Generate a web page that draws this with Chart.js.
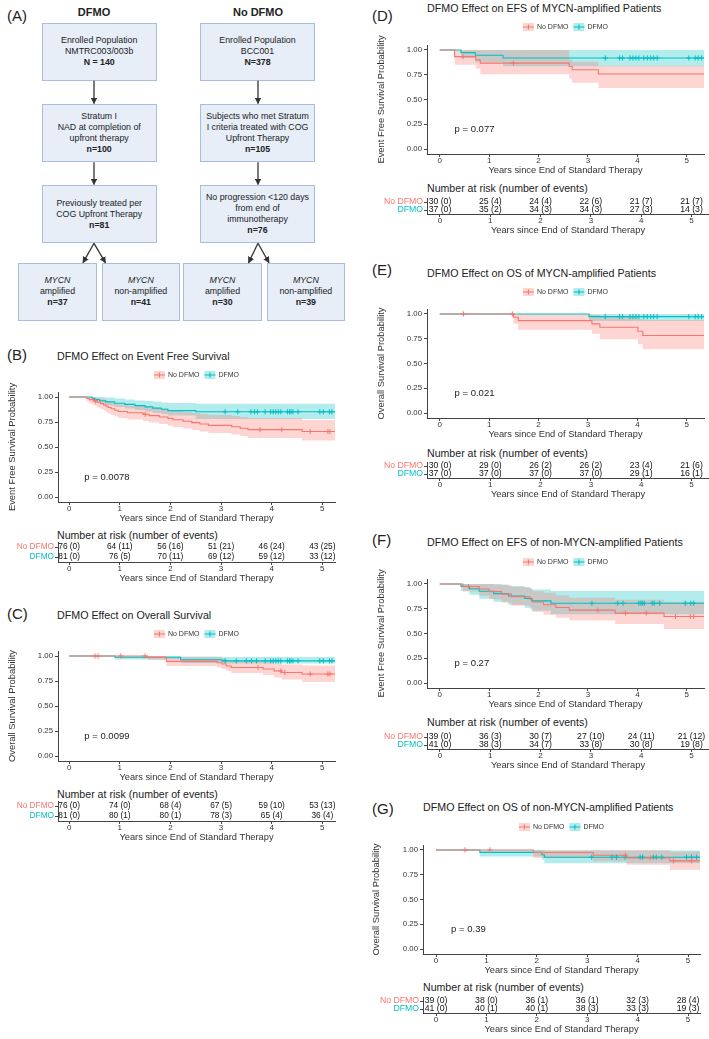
<!DOCTYPE html>
<html>
<head>
<meta charset="utf-8">
<script src="https://cdn.jsdelivr.net/npm/chart.js@4/dist/chart.umd.min.js"></script>
<style>
html, body { margin: 0; padding: 0; background: #fff; overflow: hidden; }
#fig { position: relative; width: 709px; height: 1039px; font-family: "Liberation Sans", Arial, sans-serif; color: #222; }
#fig canvas { position: absolute; }
.t { position: absolute; white-space: nowrap; line-height: 1; transform: translateY(-50%); }
.c { transform: translate(-50%, -50%); }
.lab { font-size: 15px; }
.ttl { font-size: 10.7px; }
.hdr { font-size: 10.6px; }
.box { position: absolute; box-sizing: border-box; background: #e7eef8; border: 1px solid #a9bddf;
       display: flex; flex-direction: column; justify-content: center; align-items: center;
       text-align: center; font-size: 8.8px; line-height: 11px; color: #222; }
</style>
</head>
<body>
<div id="fig">

<!-- (A) flow chart -->
<div class="t lab" style="left:7px;top:15px">(A)</div>
<div class="t c" style="left:94px;top:12px;font-size:11px;font-weight:bold">DFMO</div>
<div class="t c" style="left:258px;top:12px;font-size:11px;font-weight:bold">No DFMO</div>

<div class="box" style="left:41.7px;top:23.3px;width:115px;height:57.4px">Enrolled Population<br>NMTRC003/003b<br><b>N = 140</b></div>
<div class="box" style="left:200px;top:23.3px;width:115px;height:57.4px">Enrolled Population<br>BCC001<br><b>N=378</b></div>
<div class="box" style="left:41.7px;top:104px;width:115px;height:58.3px">Stratum I<br>NAD at completion of<br>upfront therapy<br><b>n=100</b></div>
<div class="box" style="left:200px;top:104px;width:115px;height:58.3px">Subjects who met Stratum<br>I criteria treated with COG<br>Upfront Therapy<br><b>n=105</b></div>
<div class="box" style="left:41.7px;top:185px;width:115px;height:58.3px">Previously treated per<br>COG Upfront Therapy<br><b>n=81</b></div>
<div class="box" style="left:200px;top:185px;width:115px;height:58.3px">No progression &lt;120 days<br>from end of<br>immunotherapy<br><b>n=76</b></div>
<div class="box" style="left:18.3px;top:263.3px;width:78.4px;height:57.4px"><i>MYCN</i>amplified<br><b>n=37</b></div>
<div class="box" style="left:101.7px;top:263.3px;width:78.3px;height:57.4px"><i>MYCN</i>non-amplified<br><b>n=41</b></div>
<div class="box" style="left:183.3px;top:263.3px;width:78.4px;height:57.4px"><i>MYCN</i>amplified<br><b>n=30</b></div>
<div class="box" style="left:266.7px;top:263.3px;width:78.3px;height:57.4px"><i>MYCN</i>non-amplified<br><b>n=39</b></div>

<svg width="709" height="340" style="position:absolute;left:0;top:0">
  <defs>
    <marker id="ah" viewBox="0 0 10 10" refX="9" refY="5" markerWidth="5" markerHeight="5" orient="auto">
      <path d="M0,0 L10,5 L0,10 z" fill="#333"/>
    </marker>
  </defs>
  <g stroke="#333" stroke-width="1.3" marker-end="url(#ah)">
    <line x1="94" y1="80.7" x2="94" y2="103.5"/>
    <line x1="94" y1="162.3" x2="94" y2="184.5"/>
    <line x1="94" y1="243.3" x2="83" y2="262.8"/>
    <line x1="94" y1="243.3" x2="105.5" y2="262.8"/>
    <line x1="258" y1="80.7" x2="258" y2="103.5"/>
    <line x1="258" y1="162.3" x2="258" y2="184.5"/>
    <line x1="258" y1="243.3" x2="248.5" y2="262.8"/>
    <line x1="258" y1="243.3" x2="269" y2="262.8"/>
  </g>
</svg>

<!-- panel labels, titles, risk headers -->
<div class="t lab" style="left:7px;top:354px">(B)</div>
<div class="t ttl" style="left:57px;top:356px">DFMO Effect on Event Free Survival</div>
<div class="t hdr" style="left:57px;top:535px">Number at risk (number of events)</div>

<div class="t lab" style="left:7px;top:613px">(C)</div>
<div class="t ttl" style="left:57px;top:615px">DFMO Effect on Overall Survival</div>
<div class="t hdr" style="left:57px;top:794px">Number at risk (number of events)</div>

<div class="t lab" style="left:372px;top:15px">(D)</div>
<div class="t ttl" style="left:427px;top:7.5px">DFMO Effect on EFS of MYCN-amplified Patients</div>
<div class="t hdr" style="left:427px;top:188px">Number at risk (number of events)</div>

<div class="t lab" style="left:372px;top:269px">(E)</div>
<div class="t ttl" style="left:427px;top:273px">DFMO Effect on OS of MYCN-amplified Patients</div>
<div class="t hdr" style="left:427px;top:453px">Number at risk (number of events)</div>

<div class="t lab" style="left:372px;top:539px">(F)</div>
<div class="t ttl" style="left:427px;top:542px">DFMO Effect on EFS of non-MYCN-amplified Patients</div>
<div class="t hdr" style="left:427px;top:722px">Number at risk (number of events)</div>

<div class="t lab" style="left:372px;top:808px">(G)</div>
<div class="t ttl" style="left:423px;top:807px">DFMO Effect on OS of non-MYCN-amplified Patients</div>
<div class="t hdr" style="left:423px;top:987px">Number at risk (number of events)</div>
</div>

<script>
/* ---- colours / fonts ------------------------------------------ */
const RED = '#F8766D', TEAL = '#00BFC4';
const RED_BAND = 'rgba(248,118,109,0.3)', TEAL_BAND = 'rgba(0,191,196,0.3)';
const AXIS = '#444', INK = '#333';
const FONT = '"Liberation Sans", Arial, sans-serif';

/* ---- shared labels -------------------------------------------- */
const groups    = ['No DFMO', 'DFMO'];
const xTicks    = [0, 1, 2, 3, 4, 5];
const yTicks    = [0, 0.25, 0.5, 0.75, 1];
const riskYears = [0, 1, 2, 3, 4, 5];
const xTitle    = 'Years since End of Standard Therapy';

/* ---- (B) EFS, all patients ------------------------------------ */
const bNoT  = [0, .34, .40, .48, .55, .62, .68, .73, .77, .83, .90, .97, 1.15, 1.46, 1.58, 1.78, 1.95, 2.05, 2.25, 2.42, 2.58, 2.75, 3.21, 3.38, 3.53, 4.6];
const bNoS  = [1, .987, .974, .961, .947, .934, .921, .908, .895, .882, .868, .855, .842, .828, .814, .800, .786, .772, .758, .744, .730, .716, .702, .688, .674, .655];
const bNoLo = [1, .955, .935, .915, .895, .88, .865, .85, .835, .82, .805, .79, .775, .76, .745, .73, .715, .70, .685, .67, .655, .64, .625, .61, .59, .565];
const bNoHi = [1, 1, 1, .995, .99, .985, .975, .965, .955, .945, .935, .925, .915, .905, .895, .885, .87, .86, .85, .84, .83, .82, .81, .80, .79, .77];
const bNoCens = [.52, 1.5, 3.77, 4.2, 4.76, 5.11, 5.15];
const bDfT  = [0, .45, .50, .60, .72, .90, 1.10, 1.30, 1.50, 1.65, 1.82, 1.95, 2.50];
const bDfS  = [1, .988, .975, .963, .951, .938, .926, .914, .901, .889, .877, .864, .852];
const bDfLo = [1, .965, .945, .93, .915, .90, .885, .87, .855, .84, .83, .815, .78];
const bDfHi = [1, 1, 1, 1, .995, .985, .975, .965, .96, .955, .945, .94, .932];
const bDfCens = [3.08, 3.33, 3.59, 3.66, 3.72, 3.87, 3.98, 4.03, 4.08, 4.13, 4.18, 4.31, 4.35, 4.38, 4.42, 4.52, 4.95, 5.02, 5.14, 5.19];
const bRiskNo = [76, 64, 56, 51, 46, 43], bEvNo = [0, 11, 16, 21, 24, 25];
const bRiskDf = [81, 76, 70, 69, 59, 33], bEvDf = [0, 5, 11, 12, 12, 12];

/* ---- (C) OS, all patients ------------------------------------- */
const cNoT  = [0, 1.55, 1.92, 2.92, 3.02, 3.1, 3.2, 3.83, 4.05, 4.2, 4.6];
const cNoS  = [1, .986, .946, .933, .92, .9, .885, .87, .85, .835, .82];
const cNoLo = [1, .96, .9, .885, .87, .85, .83, .81, .785, .765, .74];
const cNoHi = [1, 1, .99, .985, .975, .96, .95, .94, .925, .915, .905];
const cNoCens = [.51, .57, 1.02, 1.5, 3.73, 4.18, 4.26, 4.76, 5.11, 5.15];
const cDfT  = [0, .9, 2.2, 3.02];
const cDfS  = [1, .988, .963, .951];
const cDfLo = [1, .965, .93, .925];
const cDfHi = [1, 1, .995, .99];
const cDfCens = [3.08, 3.3, 3.5, 3.6, 3.7, 3.87, 3.98, 4.03, 4.08, 4.13, 4.18, 4.31, 4.35, 4.38, 4.42, 4.52, 4.95, 5.02, 5.14, 5.19];
const cRiskNo = [76, 74, 68, 67, 59, 53], cEvNo = [0, 0, 4, 5, 10, 13];
const cRiskDf = [81, 80, 80, 78, 65, 36], cEvDf = [0, 1, 1, 3, 4, 4];

/* ---- (D) EFS, MYCN-amplified ---------------------------------- */
const dNoT  = [0, .3, .73, .82, 2.62, 2.68, 3.21];
const dNoS  = [1, .933, .9, .867, .833, .8, .758];
const dNoLo = [1, .85, .81, .755, .71, .67, .615];
const dNoHi = [1, 1, 1, 1, .9, .88, .84];
const dNoCens = [.47, 1.49];
const dDfT  = [0, .43, .72, 1.28];
const dDfS  = [1, .973, .946, .919];
const dDfLo = [1, .92, .875, .835];
const dDfHi = [1, 1, 1, 1];
const dDfCens = [3.35, 3.64, 3.7, 3.85, 3.91, 3.97, 4.03, 4.13, 4.2, 4.27, 4.33, 4.4, 5.04, 5.17, 5.23, 5.3];
const dRiskNo = [30, 25, 24, 22, 21, 21], dEvNo = [0, 4, 4, 6, 7, 7];
const dRiskDf = [37, 35, 34, 34, 27, 14], dEvDf = [0, 2, 3, 3, 3, 3];

/* ---- (E) OS, MYCN-amplified ----------------------------------- */
const eNoT  = [0, 1.49, 1.59, 3.08, 3.24, 4.01, 4.11];
const eNoS  = [1, .967, .933, .9, .866, .826, .782];
const eNoLo = [1, .9, .84, .8, .745, .695, .645];
const eNoHi = [1, 1, 1, .99, .97, .95, .94];
const eNoCens = [.48, 1.47];
const eDfT  = [0, 3.02];
const eDfS  = [1, .973];
const eDfLo = [1, .93];
const eDfHi = [1, 1];
const eDfCens = [3.35, 3.64, 3.7, 3.85, 3.91, 3.97, 4.03, 4.13, 4.2, 4.27, 4.33, 4.4, 5.04, 5.17, 5.23, 5.3];
const eRiskNo = [30, 29, 26, 26, 23, 21], eEvNo = [0, 0, 2, 2, 4, 6];
const eRiskDf = [37, 37, 37, 37, 29, 16], eEvDf = [0, 0, 0, 0, 1, 1];

/* ---- (F) EFS, non-MYCN-amplified ------------------------------ */
const fNoT  = [0, .47, .8, 1.0, 1.25, 1.45, 1.82, 1.88, 2.1, 2.35, 2.62, 3.55, 4.54];
const fNoS  = [1, .974, .949, .923, .897, .871, .845, .818, .79, .763, .736, .706, .672];
const fNoLo = [1, .925, .88, .845, .81, .78, .75, .72, .69, .66, .63, .595, .545];
const fNoHi = [1, 1, 1, 1, .99, .97, .95, .93, .91, .885, .86, .84, .82];
const fNoCens = [.58, 3.2, 3.76, 4.18, 4.77, 5.07, 5.14];
const fDfT  = [0, .43, .6, .8, 1.09, 1.39, 1.72, 1.86, 2.25];
const fDfS  = [1, .976, .951, .927, .902, .878, .854, .829, .805];
const fDfLo = [1, .93, .89, .85, .82, .79, .76, .73, .695];
const fDfHi = [1, 1, 1, 1, .995, .98, .965, .945, .93];
const fDfCens = [3.08, 3.6, 3.71, 4.03, 4.07, 4.1, 4.14, 4.3, 4.34, 4.45, 4.97, 5.08, 5.14];
const fRiskNo = [39, 36, 30, 27, 24, 21], fEvNo = [0, 3, 7, 10, 11, 12];
const fRiskDf = [41, 38, 34, 33, 30, 19], fEvDf = [0, 3, 7, 8, 8, 8];

/* ---- (G) OS, non-MYCN-amplified ------------------------------- */
const gNoT  = [0, 1.93, 3.12, 3.78, 4.64];
const gNoS  = [1, .974, .947, .92, .89];
const gNoLo = [1, .92, .885, .85, .8];
const gNoHi = [1, 1, 1, 1, .985];
const gNoCens = [.575, 1.07, 3.76, 4.25, 4.71, 5.07];
const gDfT  = [0, .87, 2.1, 2.15];
const gDfS  = [1, .976, .951, .927];
const gDfLo = [1, .935, .9, .865];
const gDfHi = [1, 1, 1, .995];
const gDfCens = [3.09, 3.49, 3.58, 3.75, 4.05, 4.1, 4.31, 4.37, 4.48, 4.97, 5.07, 5.17];
const gRiskNo = [39, 38, 36, 36, 32, 28], gEvNo = [0, 0, 1, 1, 3, 4];
const gRiskDf = [41, 40, 40, 38, 33, 19], gEvDf = [0, 1, 1, 3, 3, 3];

const pB = 'p = 0.0078', pC = 'p = 0.0099', pD = 'p = 0.077', pE = 'p = 0.021', pF = 'p = 0.27', pG = 'p = 0.39';

/* ---- helpers -------------------------------------------------- */
Chart.defaults.font.family = FONT;
Chart.defaults.color = INK;

const fig = document.getElementById('fig');

function makeCanvas(p) {
  const cv = document.createElement('canvas');
  cv.width = p.w; cv.height = p.h;
  cv.style.left = p.left + 'px'; cv.style.top = p.top + 'px';
  cv.style.width = p.w + 'px'; cv.style.height = p.h + 'px';
  fig.appendChild(cv);
  return cv;
}

// step value at time t (used to sit censor marks on the curve)
function survAt(t, times, surv) {
  let s = surv[0];
  for (let i = 0; i < times.length; i++) if (times[i] <= t) s = surv[i];
  return s;
}

function steps(times, vals, tEnd) {
  const pts = times.map((t, i) => ({ x: t, y: vals[i] }));
  pts.push({ x: tEnd, y: vals[vals.length - 1] });
  return pts;
}

function groupSets(g, color, band, tEnd) {
  return [
    { data: steps(g.t, g.s, tEnd), stepped: true, borderColor: color, borderWidth: 1.1,
      pointRadius: 0, fill: false, order: 1 },
    { data: g.cens.map(t => ({ x: t, y: survAt(t, g.t, g.s) })), showLine: false,
      pointStyle: 'cross', pointRadius: 2.6, borderColor: color, borderWidth: 1, order: 0 },
    { data: steps(g.t, g.hi, tEnd), stepped: true, borderWidth: 0, pointRadius: 0,
      fill: '+1', backgroundColor: band, order: 2 },
    { data: steps(g.t, g.lo, tEnd), stepped: true, borderWidth: 0, pointRadius: 0,
      fill: false, order: 2 }
  ];
}

function baseX(p) {
  return {
    type: 'linear', min: p.xmin, max: p.xmax,
    afterBuildTicks: s => { s.ticks = xTicks.map(v => ({ value: v })); },
    afterFit: s => { s.height = 22; },
    grid: { drawOnChartArea: false, tickLength: 3, color: AXIS, lineWidth: 1 },
    border: { display: true, color: AXIS, width: 1 },
    ticks: { font: { size: 8, lineHeight: 1 }, color: INK, padding: 0, maxRotation: 0, autoSkip: false },
    title: { display: true, text: xTitle, font: { size: 9.3 }, color: INK, padding: 0 }
  };
}

/* legend + p-value drawn in the KM canvas */
const kmDecor = {
  id: 'kmDecor',
  afterDraw(chart, args, o) {
    const { ctx, chartArea: a, scales: { x, y } } = chart;
    ctx.save();
    ctx.textBaseline = 'middle'; ctx.textAlign = 'left';
    ctx.font = `9.5px ${FONT}`; ctx.fillStyle = '#222';
    ctx.fillText(o.pval, x.getPixelForValue(0.3), y.getPixelForValue(0.2));

    const items = [[groups[0], RED, RED_BAND], [groups[1], TEAL, TEAL_BAND]];
    ctx.font = `7px ${FONT}`;
    const kw = 11, kh = 8, g1 = 3, g2 = 5, cy = 13;
    const tw = items.map(it => ctx.measureText(it[0]).width);
    let cx = (a.left + a.right) / 2 - (kw * 2 + g1 * 2 + g2 + tw[0] + tw[1]) / 2;
    items.forEach(([lab, col, band], i) => {
      ctx.fillStyle = band; ctx.fillRect(cx, cy - kh / 2, kw, kh);
      ctx.strokeStyle = col; ctx.lineWidth = 1.1;
      ctx.beginPath();
      ctx.moveTo(cx, cy); ctx.lineTo(cx + kw, cy);
      ctx.moveTo(cx + kw / 2, cy - 2.6); ctx.lineTo(cx + kw / 2, cy + 2.6);
      ctx.stroke();
      cx += kw + g1;
      ctx.fillStyle = INK; ctx.fillText(lab, cx, cy);
      cx += tw[i] + g2;
    });
    ctx.restore();
  }
};

/* numbers of the risk table, placed on the scale points */
const riskText = {
  id: 'riskText',
  afterDatasetsDraw(chart, args, o) {
    const { ctx } = chart;
    ctx.save();
    ctx.font = `${o.size}px ${FONT}`; ctx.fillStyle = '#111';
    ctx.textAlign = 'center'; ctx.textBaseline = 'middle';
    chart.data.datasets.forEach((ds, di) => {
      chart.getDatasetMeta(di).data.forEach((pt, i) => ctx.fillText(ds.data[i].label, pt.x, pt.y));
    });
    ctx.restore();
  }
};

function drawKM(p) {
  new Chart(makeCanvas(p), {
    type: 'line',
    data: { datasets: [...groupSets(p.no, RED, RED_BAND, p.xmax), ...groupSets(p.df, TEAL, TEAL_BAND, p.xmax)] },
    options: {
      responsive: false, animation: false, events: [],
      layout: { padding: { top: p.padTop, right: p.padRight, left: 0, bottom: 0 } },
      plugins: { legend: { display: false }, tooltip: { enabled: false }, kmDecor: { pval: p.pval } },
      scales: {
        x: baseX(p),
        y: {
          type: 'linear', min: -0.05, max: 1.05,
          afterBuildTicks: s => { s.ticks = yTicks.map(v => ({ value: v })); },
          afterFit: s => { s.width = p.yw; },
          grid: { drawOnChartArea: false, tickLength: 3, color: AXIS, lineWidth: 1 },
          border: { display: true, color: AXIS, width: 1 },
          ticks: { font: { size: 7.8, lineHeight: 1 }, color: INK, padding: 2, callback: v => v.toFixed(2) },
          title: { display: true, text: p.ytitle, font: { size: 9.4 }, color: INK,
                   padding: { top: p.yTitlePad, bottom: 0 } }
        }
      }
    },
    plugins: [kmDecor]
  });
}

function drawRisk(p) {
  const rows = [[p.no, p.noEv, 1], [p.df, p.dfEv, 0]];
  new Chart(makeCanvas(p), {
    type: 'line',
    data: {
      datasets: rows.map(([n, e, row]) => ({
        data: riskYears.map((yr, i) => ({ x: yr, y: row, label: `${n[i]} (${e[i]})` })),
        showLine: false, pointRadius: 0
      }))
    },
    options: {
      responsive: false, animation: false, events: [],
      layout: { padding: { top: 7, right: p.padRight, left: 0, bottom: 0 } },
      plugins: { legend: { display: false }, tooltip: { enabled: false }, riskText: { size: p.fs } },
      scales: {
        x: baseX(p),
        y: {
          type: 'linear', min: -0.5, max: 1.5,
          afterBuildTicks: s => { s.ticks = [0, 1].map(v => ({ value: v })); },
          afterFit: s => { s.width = p.yw; },
          grid: { drawOnChartArea: false, tickLength: 3, color: AXIS, lineWidth: 1 },
          border: { display: true, color: AXIS, width: 1 },
          ticks: { font: { size: p.fs, lineHeight: 1 }, padding: 1,
                   color: c => (c.tick && c.tick.value === 1 ? RED : TEAL),
                   callback: v => groups[1 - v] }
        }
      }
    },
    plugins: [riskText]
  });
}

/* ---- panel layout --------------------------------------------- */
const EFS = 'Event Free Survival Probability', OS = 'Overall Survival Probability';
const LEFT  = { xmin: -0.22,  xmax: 5.25,  yw: 58, padRight: 5, left: 0,   w: 340 };
const RIGHT = { xmin: -0.258, xmax: 5.348, yw: 82, padRight: 0, left: 345, w: 364 };
const RIGHTG = { xmin: -0.258, xmax: 5.238, yw: 82, padRight: 5, left: 341, w: 364 };

const grp = (t, s, lo, hi, cens) => ({ t, s, lo, hi, cens });

drawKM({ ...LEFT, top: 362, h: 162, padTop: 30, yTitlePad: 6.4, ytitle: EFS, pval: pB,
  no: grp(bNoT, bNoS, bNoLo, bNoHi, bNoCens), df: grp(bDfT, bDfS, bDfLo, bDfHi, bDfCens) });
drawRisk({ ...LEFT, top: 535, h: 49, fs: 8.3, no: bRiskNo, noEv: bEvNo, df: bRiskDf, dfEv: bEvDf });

drawKM({ ...LEFT, top: 621, h: 162, padTop: 30, yTitlePad: 6.4, ytitle: OS, pval: pC,
  no: grp(cNoT, cNoS, cNoLo, cNoHi, cNoCens), df: grp(cDfT, cDfS, cDfLo, cDfHi, cDfCens) });
drawRisk({ ...LEFT, top: 794, h: 49, fs: 8.3, no: cRiskNo, noEv: cEvNo, df: cRiskDf, dfEv: cEvDf });

drawKM({ ...RIGHT, top: 14, h: 162, padTop: 31, yTitlePad: 30.4, ytitle: EFS, pval: pD,
  no: grp(dNoT, dNoS, dNoLo, dNoHi, dNoCens), df: grp(dDfT, dDfS, dDfLo, dDfHi, dDfCens) });
drawRisk({ ...RIGHT, top: 191, h: 45, fs: 8.7, no: dRiskNo, noEv: dEvNo, df: dRiskDf, dfEv: dEvDf });

drawKM({ ...RIGHT, top: 279, h: 161, padTop: 30, yTitlePad: 30.4, ytitle: OS, pval: pE,
  no: grp(eNoT, eNoS, eNoLo, eNoHi, eNoCens), df: grp(eDfT, eDfS, eDfLo, eDfHi, eDfCens) });
drawRisk({ ...RIGHT, top: 455, h: 45, fs: 8.7, no: eRiskNo, noEv: eEvNo, df: eRiskDf, dfEv: eEvDf });

drawKM({ ...RIGHT, top: 549, h: 161, padTop: 30, yTitlePad: 30.4, ytitle: EFS, pval: pF,
  no: grp(fNoT, fNoS, fNoLo, fNoHi, fNoCens), df: grp(fDfT, fDfS, fDfLo, fDfHi, fDfCens) });
drawRisk({ ...RIGHT, top: 726, h: 45, fs: 8.7, no: fRiskNo, noEv: fEvNo, df: fRiskDf, dfEv: fEvDf });

drawKM({ ...RIGHTG, top: 814, h: 162, padTop: 31, yTitlePad: 30, ytitle: OS, pval: pG,
  no: grp(gNoT, gNoS, gNoLo, gNoHi, gNoCens), df: grp(gDfT, gDfS, gDfLo, gDfHi, gDfCens) });
drawRisk({ ...RIGHTG, top: 990, h: 45, fs: 8.7, no: gRiskNo, noEv: gEvNo, df: gRiskDf, dfEv: gEvDf });
</script>
</body>
</html>
